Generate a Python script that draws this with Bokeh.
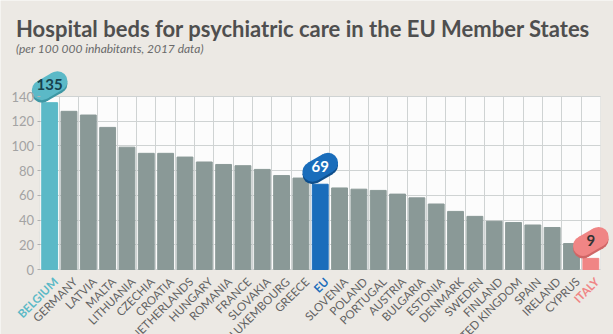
import math
from bokeh.plotting import figure
from bokeh.models import ColumnDataSource, LabelSet, Label, FixedTicker, BoxAnnotation
from bokeh.core.properties import value
from bokeh.embed import file_html
from bokeh.resources import INLINE

countries = ["BELGIUM", "GERMANY", "LATVIA", "MALTA", "LITHUANIA", "CZECHIA", "CROATIA",
             "NETHERLANDS", "HUNGARY", "ROMANIA", "FRANCE", "SLOVAKIA", "LUXEMBOURG", "GREECE",
             "EU", "SLOVENIA", "POLAND", "PORTUGAL", "AUSTRIA", "BULGARIA", "ESTONIA",
             "DENMARK", "SWEDEN", "FINLAND", "UNITED KINGDOM", "SPAIN", "IRELAND", "CYPRUS", "ITALY"]
beds = [135, 128, 125, 115, 99, 94, 94, 91, 87, 85, 84, 81, 76, 74,
        69, 66, 65, 64, 61, 58, 53, 47, 43, 39, 38, 36, 34, 21, 9]
y_ticks = [0, 20, 40, 60, 80, 100, 120, 140]

FONT = "Lato"
GRAY_BAR = "#8a9997"
TEAL = "#5bb9c7"
BLUE = "#1a6dbb"
PINK = "#f08585"
GRID = "#cfd3d3"

highlight = {"BELGIUM": TEAL, "EU": BLUE, "ITALY": PINK}
n = len(countries)
xs = list(range(n))
bar_colors = [highlight.get(c, GRAY_BAR) for c in countries]
label_colors = [highlight.get(c, "#626262") for c in countries]
label_styles = ["bold" if c in highlight else "normal" for c in countries]

src = ColumnDataSource(dict(x=xs, y=beds, name=countries, color=bar_colors,
                            lcolor=label_colors, lstyle=label_styles,
                            zero=[0] * n))

# frame covers the whole canvas; plot area spans px 39.5..600 (x) and 96..269 (y)
W, H = 613, 334
left_px, right_px, top_px, bot_px = 39.5, 600.0, 96.0, 269.0
ymax = max(y_ticks)
xu = (right_px - left_px) / n
yu = (bot_px - top_px) / ymax
x0 = -0.5 - left_px / xu
x1 = n - 0.5 + (W - right_px) / xu
y0 = -(H - bot_px) / yu
y1 = ymax + top_px / yu

p = figure(width=W, height=H, output_backend="svg", toolbar_location=None,
           x_range=(x0, x1), y_range=(y0, y1),
           min_border=0, title=None)
p.background_fill_color = "#ece9e4"
p.border_fill_color = "#ece9e4"
p.outline_line_color = None

p.add_layout(BoxAnnotation(left=-0.5, right=n - 0.5, bottom=0, top=ymax,
                           fill_color="#fcfcfc", fill_alpha=1.0,
                           line_color="#c5c9c9", line_width=1, level="image"))

p.vbar(x="x", top="y", width=0.82, color="color", source=src)

p.xaxis.visible = False
p.xgrid.ticker = FixedTicker(ticks=[i + 0.5 for i in range(n - 1)])
p.xgrid.grid_line_color = GRID
p.xgrid.cross_bounds = (0, ymax)
p.ygrid.ticker = FixedTicker(ticks=y_ticks)
p.ygrid.grid_line_color = GRID
p.ygrid.cross_bounds = (-0.5, n - 0.5)

p.yaxis.fixed_location = -0.5
p.yaxis.bounds = (0, ymax)
p.yaxis.ticker = FixedTicker(ticks=y_ticks)
p.yaxis.axis_line_color = None
p.yaxis.major_tick_line_color = "#b0b0b0"
p.yaxis.major_tick_in = 0
p.yaxis.major_tick_out = 3
p.yaxis.minor_tick_line_color = None
p.yaxis.major_label_text_font = FONT
p.yaxis.major_label_text_font_size = "13px"
p.yaxis.major_label_text_color = "#a3a3a3"
p.yaxis.major_label_standoff = 3

labels = LabelSet(x="x", y="zero", text="name", source=src, angle=math.pi / 4,
                  text_align="right", text_baseline="middle", x_offset=6, y_offset=-10,
                  text_font=value(FONT), text_font_size="11.5px", text_color="lcolor",
                  text_font_style="lstyle")
p.add_layout(labels)

p.add_layout(Label(x=-0.5, y=ymax, x_offset=-24, y_offset=68,
                   text="Hospital beds for psychiatric care in the EU Member States",
                   text_font=FONT, text_font_style="bold", text_font_size="22px",
                   text_color="#4f4f4f", text_baseline="middle"))
p.add_layout(Label(x=-0.5, y=ymax, x_offset=-24, y_offset=48,
                   text="(per 100 000 inhabitants, 2017 data)",
                   text_font=FONT, text_font_style="italic", text_font_size="12px",
                   text_color="#6a6a6a", text_baseline="middle"))

# pill-shaped value badges: rotated capsule (rect + two round caps), upright number
ANG = math.pi / 6
PILL_T = 20      # thickness, px
PILL_HALF = 9    # half distance between cap centres, px
PILL_OFF = 17    # lift above bar top, px
pills = [("BELGIUM", TEAL, "#3d97a4", "#17414d"),
         ("EU", BLUE, "#0f4f8c", "white"),
         ("ITALY", PINK, "#cf6666", "#333333")]
for name, fill, shade, tcol in pills:
    i = countries.index(name)
    v = beds[i]
    dx = PILL_HALF * math.cos(ANG) / xu
    dy = PILL_HALF * math.sin(ANG) / yu
    for lift, col in [(PILL_OFF - 2.5, shade), (PILL_OFF, fill)]:
        cy = v + lift / yu
        p.rect(x=[i], y=[cy], width=2 * PILL_HALF, height=PILL_T,
               width_units="screen", height_units="screen", angle=ANG,
               fill_color=col, line_color=None)
        p.circle(x=[i - dx, i + dx], y=[cy - dy, cy + dy], radius=PILL_T / 2,
                 radius_units="screen", fill_color=col, line_color=None)
    p.add_layout(Label(x=i, y=v, x_offset=0, y_offset=PILL_OFF + 1, text=str(v),
                       text_align="center", text_baseline="middle",
                       text_font=FONT, text_font_style="bold", text_font_size="15px",
                       text_color=tcol))

open("out.html", "w").write(file_html(p, INLINE))
